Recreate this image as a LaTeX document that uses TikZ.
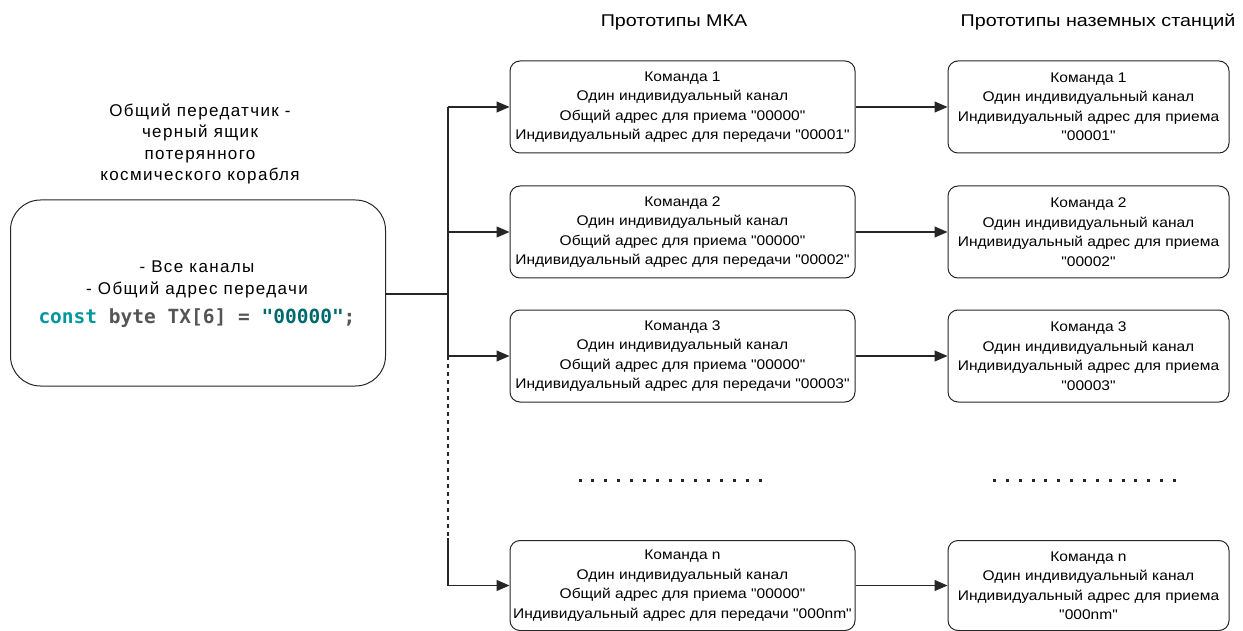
\documentclass[tikz,border=0pt]{standalone}
\usepackage{fontspec}
\setmainfont{Liberation Sans}
\newfontfamily\codefont{DejaVu Sans Mono}
\newfontfamily\boxfont[FakeStretch=1.11]{Liberation Sans}
\newfontfamily\headfont[FakeStretch=1.16]{Liberation Sans}
\newfontfamily\leftfont[LetterSpace=8]{Liberation Sans}
\usetikzlibrary{arrows.meta}
\definecolor{kwteal}{RGB}{0,150,160}
\definecolor{strteal}{RGB}{0,105,110}
\definecolor{codegray}{RGB}{85,85,85}
\begin{document}
\begin{tikzpicture}[x=1pt,y=-1pt,
  cmdbox/.style={draw=black!85,line width=1pt,rounded corners=10pt,align=center,
    font=\boxfont\fontsize{14}{19.5}\selectfont,inner sep=0pt},
  link/.style={draw=black!85,line width=1.2pt,-{Triangle[length=13pt,width=11pt]}},
  plain/.style={draw=black!85,line width=1.2pt},
  dotrow/.style={line width=3pt,dash pattern=on 3pt off 9.86pt}]
\useasboundingbox (0,0) rectangle (1243,631);
% headers
\node[font=\headfont\fontsize{17}{19}\selectfont] (h1) at (674,22) {Прототипы МКА};
\node[font=\headfont\fontsize{17}{19}\selectfont] (h2) at (1098,22) {Прототипы наземных станций};
% left title
\node[align=center,font=\leftfont\fontsize{17}{21.5}\selectfont] (title) at (200,144)
  {Общий передатчик -\\черный ящик\\потерянного\\космического корабля};
% left box
\node[draw=black!85,line width=1pt,rounded corners=30pt,minimum width=375pt,minimum height=186pt,
  align=center,inner sep=0pt] (src) at (198,293) {};
\node[font=\leftfont\fontsize{17}{22}\selectfont,align=center] (srct) at (197,279) {- Все каналы\\- Общий адрес передачи};
\node[font=\codefont\bfseries\fontsize{19.5}{22}\selectfont] (code) at (197,318)
  {\textcolor{kwteal}{const} \textcolor{codegray}{byte TX[6] = }\textcolor{strteal}{"00000"}\textcolor{codegray}{;}};
% middle boxes
\foreach \n/\y/\t in {m1/107/1, m2/232/2, m3/356/3} {
  \node[cmdbox,minimum width=345pt,minimum height=92pt] (\n) at (682.5,\y)
    {Команда \t\\Один индивидуальный канал\\Общий адрес для приема "00000"\\Индивидуальный адрес для передачи "0000\t"};
}
\node[cmdbox,minimum width=345pt,minimum height=90pt] (mn) at (682.5,585.5)
  {Команда n\\Один индивидуальный канал\\Общий адрес для приема "00000"\\Индивидуальный адрес для передачи "000nm"};
% right boxes
\foreach \n/\y/\t in {r1/107/1, r2/232/2, r3/356/3} {
  \node[cmdbox,minimum width=281pt,minimum height=92pt] (\n) at (1088.5,\y)
    {Команда \t\\Один индивидуальный канал\\Индивидуальный адрес для приема\\"0000\t"};
}
\node[cmdbox,minimum width=281pt,minimum height=90pt] (rn) at (1088.5,585.5)
  {Команда n\\Один индивидуальный канал\\Индивидуальный адрес для приема\\"000nm"};
% dots
\coordinate (d1a) at (578.5,480);
\coordinate (d1b) at (762,480);
\coordinate (d2a) at (993,480);
\coordinate (d2b) at (1177,480);
\draw[dotrow,black!85] (d1a) -- (d1b);
\draw[dotrow,black!85] (d2a) -- (d2b);
% trunk
\coordinate (j) at (448,294);
\coordinate (t1) at (448,107);
\coordinate (t2) at (448,232);
\coordinate (t3) at (448,356);
\coordinate (t4) at (448,538);
\coordinate (tn) at (448,585.5);
\draw[plain] (src.east |- j) -- (j);
\draw[plain] (t1) -- (t3);
\draw[plain,dash pattern=on 4pt off 4pt] (t3) -- (t4);
\draw[plain] (t4) -- (tn);
\draw[link] (t1) -- (m1.west);
\draw[link] (t2) -- (m2.west);
\draw[link] (t3) -- (m3.west);
\draw[link] (tn) -- (mn.west);
\draw[link] (m1) -- (r1);
\draw[link] (m2) -- (r2);
\draw[link] (m3) -- (r3);
\draw[link] (mn) -- (rn);
\end{tikzpicture}
\end{document}
